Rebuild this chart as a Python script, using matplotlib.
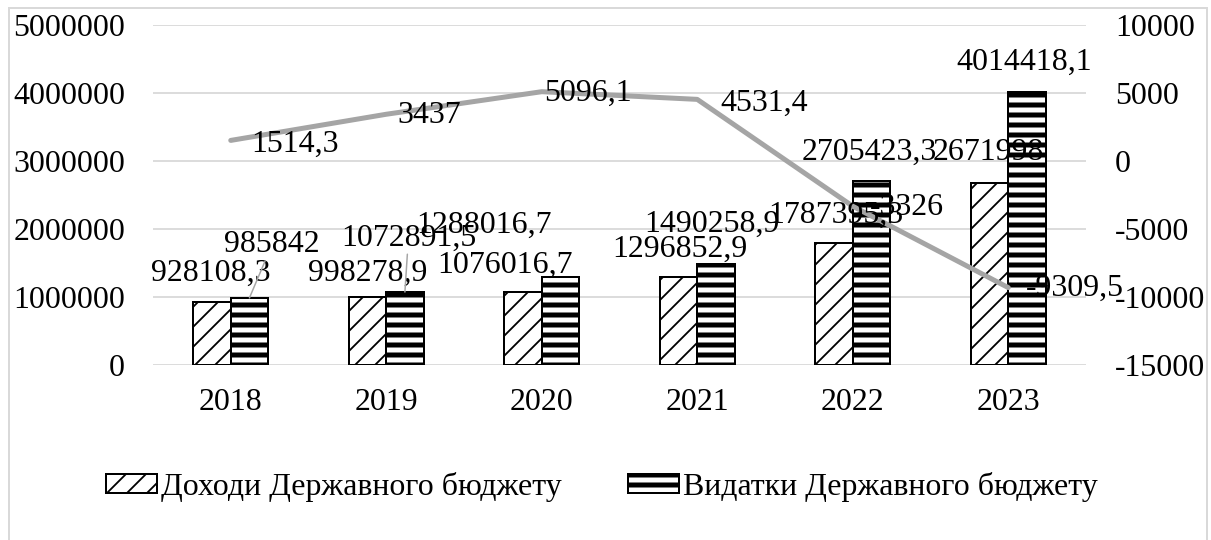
import matplotlib
matplotlib.use("Agg")
import matplotlib.pyplot as plt
from matplotlib.patches import Rectangle
import numpy as np

# ---------------- data ----------------
years = ["2018", "2019", "2020", "2021", "2022", "2023"]
income = [928108.3, 998278.9, 1076016.7, 1296852.9, 1787395.3, 2671998]
expense = [985842, 1072891.5, 1288016.7, 1490258.9, 2705423.3, 4014418.1]
balance = [1514.3, 3437, 5096.1, 4531.4, -3326, -9309.5]
left_ticks = [0, 1000000, 2000000, 3000000, 4000000, 5000000]
right_ticks = [-15000, -10000, -5000, 0, 5000, 10000]
legend_labels = ["Доходи Державного бюджету", "Видатки Державного бюджету"]

# ---------------- label placement (style, in pixels) ----------------
inc_off = [(-1.5, 29), (0.5, 24), (-18, 27), (1, 27), (2, 28), (-1.5, 31)]
exp_off = [(22.5, 53), (3.5, 54), (-76, 52), (-4, 39), (-2, 29), (-3, 30)]
bal_off = [(20, -4), (11, -1), (2, -2), (23, -4), (17, -1), (18, -1)]
leader = [True, True, False, False, False, False]

DPI = 60
W, H = 1211, 540
plt.rcParams['font.family'] = ['Liberation Serif', 'DejaVu Serif']
plt.rcParams['axes.unicode_minus'] = False
plt.rcParams['hatch.linewidth'] = 2.2
FS = 38.3

fig = plt.figure(figsize=(W / DPI, H / DPI), dpi=DPI)
ax = fig.add_axes([153 / W, 175 / H, 933 / W, 340 / H])
ax2 = ax.twinx()

x = np.arange(len(years))
bw = 0.24

def fmt(v):
    return "{:.10g}".format(v).replace(".", ",")

with plt.rc_context({'hatch.linewidth': 2.2}):
    b1 = ax.bar(x - bw / 2, income, bw, facecolor='white', edgecolor='black',
                hatch='/', linewidth=2.4, zorder=3, label=legend_labels[0])
with plt.rc_context({'hatch.linewidth': 6}):
    b2 = ax.bar(x + bw / 2, expense, bw, facecolor='white', edgecolor='black',
                hatch='-', linewidth=2.4, zorder=3, label=legend_labels[1])
for p in b1:
    if hasattr(p, 'set_hatch_linewidth'):
        p.set_hatch_linewidth(2.2)
for p in b2:
    if hasattr(p, 'set_hatch_linewidth'):
        p.set_hatch_linewidth(6)

ax.set_xlim(-0.5, len(years) - 0.5)
ax.set_ylim(left_ticks[0], left_ticks[-1])
ax.set_yticks(left_ticks)
ax.set_yticklabels([str(t) for t in left_ticks])
ax.set_xticks(x)
ax.set_xticklabels(years)
ax.grid(axis='y', color='#D9D9D9', linewidth=2.2)
ax.set_axisbelow(True)
ax.tick_params(axis='y', length=0, pad=33.5, labelsize=FS)
ax.tick_params(axis='x', length=0, pad=28, labelsize=FS)
for s in ax.spines.values():
    s.set_visible(False)

ax2.plot(x, balance, color='#A5A5A5', linewidth=6, solid_capstyle='round',
         solid_joinstyle='round', zorder=4)
ax2.set_ylim(right_ticks[0], right_ticks[-1])
ax2.set_yticks(right_ticks)
ax2.set_yticklabels([str(t) for t in right_ticks])
ax2.tick_params(axis='y', length=0, pad=35, labelsize=FS)
for s in ax2.spines.values():
    s.set_visible(False)

# bar labels
for i in range(len(years)):
    ax2.annotate(fmt(income[i]), xy=(x[i] - bw / 2, income[i]), xycoords=ax.transData,
                 xytext=inc_off[i], textcoords='offset pixels', ha='center', va='center',
                 fontsize=FS, zorder=6)
    ap = None
    if leader[i]:
        ap = dict(arrowstyle='-', color='#A6A6A6', lw=1.8, shrinkA=0, shrinkB=0)
    ax2.annotate(fmt(expense[i]), xy=(x[i] + bw / 2, expense[i]), xycoords=ax.transData,
                 xytext=exp_off[i], textcoords='offset pixels', ha='center', va='center',
                 fontsize=FS, zorder=6, arrowprops=ap)
    ax2.annotate(fmt(balance[i]), xy=(x[i], balance[i]), xycoords='data',
                 xytext=bal_off[i], textcoords='offset pixels', ha='left', va='center',
                 fontsize=FS, zorder=6)

leg = fig.legend(handles=[b1, b2], labels=legend_labels, loc='center',
                 bbox_to_anchor=(0.497, 53 / H), ncol=2, frameon=False, fontsize=FS,
                 handlelength=1.6, handleheight=0.55, handletextpad=0.12,
                 columnspacing=2.1)
for p, lw in zip(leg.get_patches(), [2.2, 6]):
    if hasattr(p, 'set_hatch_linewidth'):
        p.set_hatch_linewidth(lw)
    p.set_linewidth(2.4)

fig.patches.append(Rectangle((9 / W, -0.05), 1198 / W, 532 / H + 0.05,
                             transform=fig.transFigure, fill=False,
                             edgecolor='#D9D9D9', linewidth=2.4))

fig.savefig("out.png", dpi=DPI)
